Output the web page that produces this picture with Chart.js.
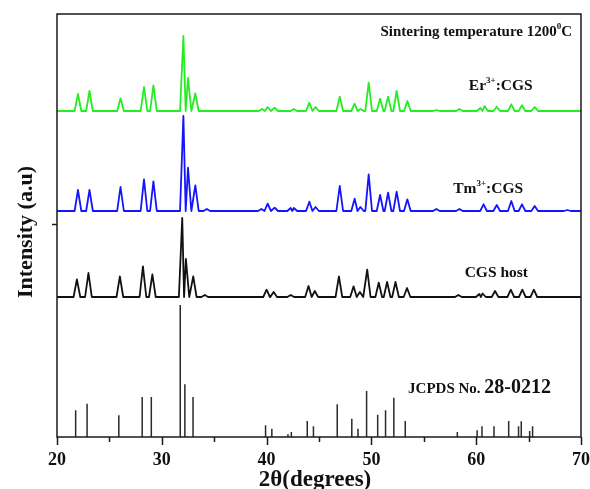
<!DOCTYPE html>
<html>
<head>
<meta charset="utf-8">
<script src="https://cdn.jsdelivr.net/npm/chart.js@4"></script>
<style>
  html, body { margin: 0; padding: 0; background: #fff; }
  #wrap { width: 590px; height: 489px; position: relative; }
</style>
</head>
<body>
<div id="wrap"><canvas id="xrd"></canvas></div>
<script>
// 2θ tick labels
const xTickLabels = [20, 30, 40, 50, 60, 70];
const xMinorTicks = [25, 35, 45, 55, 65];

// Er3+:CGS pattern (peak 2θ, peak height above its baseline)
const erBase = 326;
const erPos = [22.0, 23.1, 26.06, 28.3, 29.2, 32.06, 32.5, 33.2, 39.57, 40.1, 40.77, 42.6, 44.08, 44.67, 46.98, 48.4, 48.95, 49.74, 50.83, 51.59, 52.41, 53.43, 56.2, 58.4, 60.4, 60.8, 61.96, 63.35, 64.37, 65.58];
const erInt = [17, 20, 12.7, 24, 25.7, 75, 33, 17.7, 2, 4, 3.3, 2, 8.3, 4, 14.3, 7.3, 2, 28.3, 12.3, 14.3, 20, 10, 1, 2, 3, 5, 4.3, 6.7, 5.7, 4];

// Tm3+:CGS pattern
const tmBase = 226;
const tmPos = [22.0, 23.1, 26.06, 28.3, 29.2, 32.06, 32.5, 33.2, 34.3, 39.5, 40.1, 40.77, 42.3, 42.6, 44.08, 44.67, 46.98, 48.4, 48.95, 49.74, 50.83, 51.59, 52.41, 53.43, 56.2, 58.4, 60.7, 61.96, 63.35, 64.37, 65.58, 68.7];
const tmInt = [21, 21, 24, 31.7, 29.7, 95, 43.3, 25.7, 2, 2, 7.3, 3.3, 3, 3, 9.3, 4, 25, 12.3, 4, 36.7, 16, 18.3, 19.3, 11.7, 2, 2, 6.7, 6, 10, 6.7, 5, 1];

// CGS host pattern
const hostBase = 140;
const hostPos = [21.9, 23.0, 26.0, 28.2, 29.1, 31.95, 32.3, 33.0, 34.1, 40.0, 40.67, 42.3, 44.0, 44.6, 46.9, 48.3, 48.9, 49.6, 50.7, 51.5, 52.3, 53.4, 58.3, 60.3, 60.6, 61.8, 63.3, 64.4, 65.5];
const hostInt = [17.7, 24, 20.7, 30.7, 22.7, 79, 38, 20.7, 2, 7.3, 5, 2, 11, 6, 20.7, 10.7, 5, 27.3, 14.3, 15, 15, 9, 2, 3, 3.5, 6, 7.3, 7.3, 7.3];

// JCPDS 28-0212 reference lines
const refPos = [21.78, 22.87, 25.9, 28.13, 29.0, 31.76, 32.2, 32.98, 39.9, 40.5, 42.04, 42.36, 43.88, 44.47, 46.74, 48.13, 48.72, 49.54, 50.6, 51.35, 52.14, 53.23, 58.2, 60.09, 60.55, 61.7, 63.1, 64.04, 64.3, 65.1, 65.38];
const refInt = [26.7, 33.3, 21.7, 40, 40, 132, 52.7, 40, 11.7, 8.3, 2.7, 5, 16, 10.7, 32.7, 18.3, 8.3, 46, 22.3, 26.7, 39.3, 16, 5, 6.7, 10.7, 10.7, 16, 10.7, 15.7, 6, 10.7];

// single tick on the intensity axis
const yTicks = [213];

// peak list -> line points (each peak: base, apex, base)
function pattern(pos, ints, base) {
  const hw = 0.32;
  const pts = [{ x: 20, y: base }];
  pos.forEach((p, i) => {
    const l = i > 0 ? Math.min(hw, (p - pos[i - 1]) / 2) : hw;
    const r = i < pos.length - 1 ? Math.min(hw, (pos[i + 1] - p) / 2) : hw;
    pts.push({ x: p - l, y: base }, { x: p, y: base + ints[i] }, { x: p + r, y: base });
  });
  pts.push({ x: 70, y: base });
  return pts;
}

function sticks(pos, ints) {
  const pts = [];
  pos.forEach((p, i) => pts.push({ x: p, y: 0 }, { x: p, y: ints[i] }, { x: p, y: null }));
  return pts;
}

const SERIF = '"Liberation Serif", "Times New Roman", serif';

// text runs with optional superscripts
function drawRuns(ctx, runs, x, y, size, align) {
  ctx.textBaseline = 'alphabetic';
  ctx.textAlign = 'left';
  const fontOf = r => `bold ${r.sup ? Math.round(size * 0.6) : (r.size || size)}px ${SERIF}`;
  const widths = runs.map(r => { ctx.font = fontOf(r); return ctx.measureText(r.t).width; });
  const total = widths.reduce((a, b) => a + b, 0);
  let cx = align === 'right' ? x - total : x;
  runs.forEach((r, i) => {
    ctx.font = fontOf(r);
    ctx.fillText(r.t, cx, r.sup ? y - size * 0.45 : y);
    cx += widths[i];
  });
}

const decor = {
  id: 'decor',
  afterDatasetsDraw(chart) {
    const { ctx, chartArea: a, scales: { x, y } } = chart;
    ctx.save();
    ctx.strokeStyle = '#1a1a1a';
    ctx.lineWidth = 1.5;
    ctx.strokeRect(a.left, a.top, a.right - a.left, a.bottom - a.top);

    // outward ticks
    ctx.beginPath();
    xTickLabels.forEach(v => {
      const px = Math.round(x.getPixelForValue(v)) + 0.5;
      ctx.moveTo(px, a.bottom); ctx.lineTo(px, a.bottom + 8);
    });
    xMinorTicks.forEach(v => {
      const px = Math.round(x.getPixelForValue(v)) + 0.5;
      ctx.moveTo(px, a.bottom); ctx.lineTo(px, a.bottom + 5);
    });
    yTicks.forEach(v => {
      const py = Math.round(y.getPixelForValue(v)) + 0.5;
      ctx.moveTo(a.left, py); ctx.lineTo(a.left - 5, py);
    });
    ctx.stroke();

    ctx.fillStyle = '#111';
    ctx.font = `bold 18px ${SERIF}`;
    ctx.textAlign = 'center';
    ctx.textBaseline = 'middle';
    xTickLabels.forEach(v => ctx.fillText(String(v), x.getPixelForValue(v), 460));

    // axis titles
    ctx.font = `bold 23px ${SERIF}`;
    ctx.fillText('2θ(degrees)', 315, 480);
    ctx.save();
    ctx.translate(26, 232);
    ctx.rotate(-Math.PI / 2);
    ctx.font = `bold 22px ${SERIF}`;
    ctx.fillText('Intensity (a.u)', 0, 0);
    ctx.restore();

    // curve labels
    drawRuns(ctx, [{ t: 'Sintering temperature 1200' }, { t: '0', sup: true }, { t: 'C' }],
      x.getPixelForValue(69.15), y.getPixelForValue(401), 15, 'right');
    drawRuns(ctx, [{ t: 'Er' }, { t: '3+', sup: true }, { t: ':CGS' }],
      x.getPixelForValue(59.3), y.getPixelForValue(347), 15.5, 'left');
    drawRuns(ctx, [{ t: 'Tm' }, { t: '3+', sup: true }, { t: ':CGS' }],
      x.getPixelForValue(57.8), y.getPixelForValue(244), 15.5, 'left');
    drawRuns(ctx, [{ t: 'CGS host' }],
      x.getPixelForValue(58.9), y.getPixelForValue(160), 15.5, 'left');
    drawRuns(ctx, [{ t: 'JCPDS No. ' }, { t: '28-0212', size: 20 }],
      x.getPixelForValue(53.5), y.getPixelForValue(44), 15, 'left');
    ctx.restore();
  }
};

const line = (data, color, width) => ({
  data, borderColor: color, borderWidth: width, pointRadius: 0,
  borderJoinStyle: 'round', borderCapStyle: 'butt',
  tension: 0, fill: false, spanGaps: false
});

new Chart(document.getElementById('xrd'), {
  type: 'line',
  data: {
    datasets: [
      line(pattern(erPos, erInt, erBase), '#22ee22', 1.8),
      line(pattern(tmPos, tmInt, tmBase), '#1414ff', 1.8),
      line(pattern(hostPos, hostInt, hostBase), '#111111', 1.8),
      line(sticks(refPos, refInt), '#2a2a2a', 1.5)
    ]
  },
  options: {
    responsive: true,
    maintainAspectRatio: false,
    animation: false,
    layout: { padding: { left: 57, right: 9, top: 14, bottom: 52 } },
    scales: {
      x: { type: 'linear', min: 20, max: 70, display: false },
      y: { type: 'linear', min: 0, max: 423, display: false }
    },
    plugins: { legend: { display: false }, tooltip: { enabled: false } }
  },
  plugins: [decor]
});
</script>
</body>
</html>
